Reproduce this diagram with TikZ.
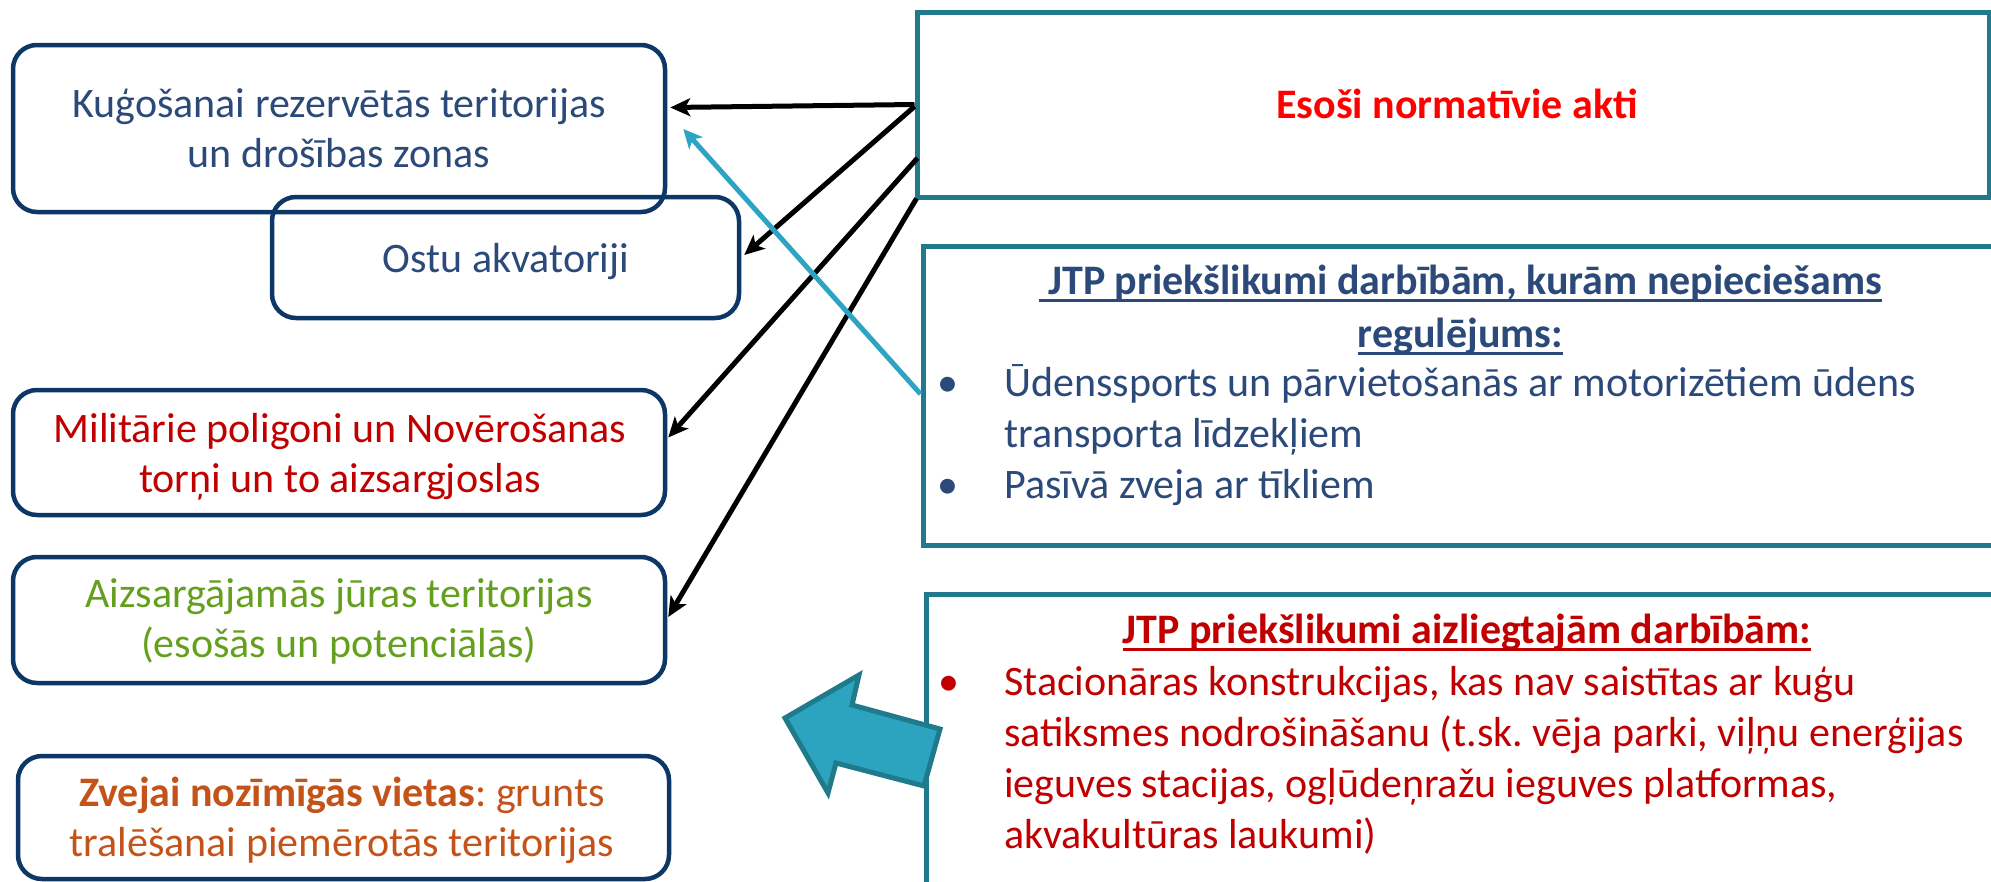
\documentclass[tikz,border=0pt]{standalone}
\usepackage{fontspec}
\setmainfont{Carlito}
\usetikzlibrary{arrows.meta,calc}
\frenchspacing
\definecolor{boxblue}{HTML}{0D3767}
\definecolor{txtblue}{HTML}{2B4A7A}
\definecolor{tealline}{HTML}{217A8C}
\definecolor{arrowfill}{HTML}{2CA3BF}
\definecolor{arrowedge}{HTML}{1F7A8C}
\definecolor{cyanline}{HTML}{2DA4C4}
\definecolor{darkred}{HTML}{C00000}
\definecolor{brightred}{HTML}{FF0000}
\definecolor{leafgreen}{HTML}{64A01E}
\definecolor{rustorange}{HTML}{C4531A}
\newsavebox{\ulinebox}
\newcommand{\ulx}[1]{\sbox{\ulinebox}{#1}\rlap{\vrule height -4.5pt depth 8pt width \wd\ulinebox}\usebox{\ulinebox}}
\newcommand{\mlines}[1]{\begin{tabular}[t]{@{}c@{}}#1\end{tabular}}
\begin{document}
\frenchspacing
\begin{tikzpicture}[x=1pt,y=-1pt,
  rbox/.style={draw=boxblue,line width=4.5pt,rounded corners=24pt,inner sep=0pt},
  sbox/.style={draw=tealline,line width=5pt,fill=white,inner sep=0pt},
  lbl/.style={anchor=base,inner sep=0pt,font=\fontsize{42}{50}\selectfont},
  items/.style={anchor=base west,inner sep=0pt,font=\fontsize{42}{51}\selectfont},
  conn/.style={draw=black,line width=5pt,-{Stealth[length=20pt,width=18pt,inset=5pt]}},
  cconn/.style={draw=cyanline,line width=5pt,-{Stealth[length=19pt,width=18pt,inset=5pt]}},
  blockarrow/.style={draw=arrowedge,fill=arrowfill,line width=5pt,line join=miter}]
\useasboundingbox (0,0) rectangle (1991,881);
\clip (0,0) rectangle (1991,881);

% left rounded boxes
\node[rbox,minimum width=652pt,minimum height=167pt] (A) at (339,128.5) {};
\node[rbox,minimum width=467pt,minimum height=121pt] (B) at (505.5,257.5) {};
\node[rbox,minimum width=652pt,minimum height=125pt] (C) at (339,452.5) {};
\node[rbox,minimum width=652pt,minimum height=126pt] (D) at (339,620) {};
\node[rbox,minimum width=651pt,minimum height=123pt] (E) at (343.5,817.5) {};

% right boxes
\node[sbox,minimum width=1072pt,minimum height=185pt] (esosi) at (1453,104.5) {};
\node[sbox,minimum width=1087pt,minimum height=299pt] (jtpa) at (1466.5,395.5) {};
\node[sbox,minimum width=1084pt,minimum height=316pt] (jtpb) at (1468,752) {};

% texts
\node[lbl,text=txtblue] (At) at (339,117) {\mlines{Kuģošanai rezervētās teritorijas\\un drošības zonas}};
\node[lbl,text=txtblue] (Bt) at (506,272) {Ostu akvatoriji};
\node[lbl,text=darkred] (Ct) at (340,442) {\mlines{Militārie poligoni un Novērošanas\\torņi un to aizsargjoslas}};
\node[lbl,text=leafgreen] (Dt) at (339,607) {\mlines{Aizsargājamās jūras teritorijas\\(esošās un potenciālās)}};
\node[lbl,text=rustorange] (Et) at (342,806) {\mlines{\textbf{Zvejai nozīmīgās vietas}: grunts\\tralēšanai piemērotās teritorijas}};
\node[lbl,text=brightred,font=\fontsize{42}{50}\selectfont\bfseries] (esosit) at (1457,118) {Esoši normatīvie akti};

\node[lbl,text=txtblue,font=\fontsize{42}{53}\selectfont\bfseries] (jtpah) at (1460.5,294)
  {\mlines{\ulx{\ JTP priekšlikumi darbībām, kurām nepieciešams}\\\ulx{regulējums:}}};
\node[items,text=txtblue] (jtpai) at (941,396)
  {\begin{tabular}[t]{@{}p{63pt}@{}l@{}}\hspace*{-4pt}•&Ūdenssports un pārvietošanās ar motorizētiem ūdens\\&transporta līdzekļiem\\\hspace*{-4pt}•&Pasīvā zveja ar tīkliem\end{tabular}};

\node[lbl,text=darkred,font=\fontsize{42}{51}\selectfont\bfseries] (jtpbh) at (1467,643)
  {\ulx{JTP priekšlikumi aizliegtajām darbībām:}};
\node[items,text=darkred] (jtpbi) at (944,695)
  {\begin{tabular}[t]{@{}p{60pt}@{}l@{}}\hspace*{-6pt}•&Stacionāras konstrukcijas, kas nav saistītas ar kuģu\\&satiksmes nodrošināšanu (t.sk. vēja parki, viļņu enerģijas\\&ieguves stacijas, ogļūdeņražu ieguves platformas,\\&akvakultūras laukumi)\end{tabular}};

% connectors
\draw[conn] ($(esosi.west)+(0,0)$) -- ($(A.east)+(3,-21)$);
\draw[conn] ($(esosi.west)+(0,2)$) -- ($(B.east)+(3,-2.5)$);
\draw[conn] ($(esosi.west)+(3,53.5)$) -- ($(C.east)+(1,-15)$);
\draw[conn] ($(esosi.south west)+(2,-1)$) -- ($(D.east)+(1,-3)$);
\draw[cconn] ($(jtpa.west)+(0,-1.5)$) -- ($(A.east)+(16,0.5)$);

% block arrow
\draw[blockarrow] (785,718) -- (859,675) -- (852,705) -- (940,729) -- (924,786) -- (836,763) -- (828,793) -- cycle;
\end{tikzpicture}
\end{document}
